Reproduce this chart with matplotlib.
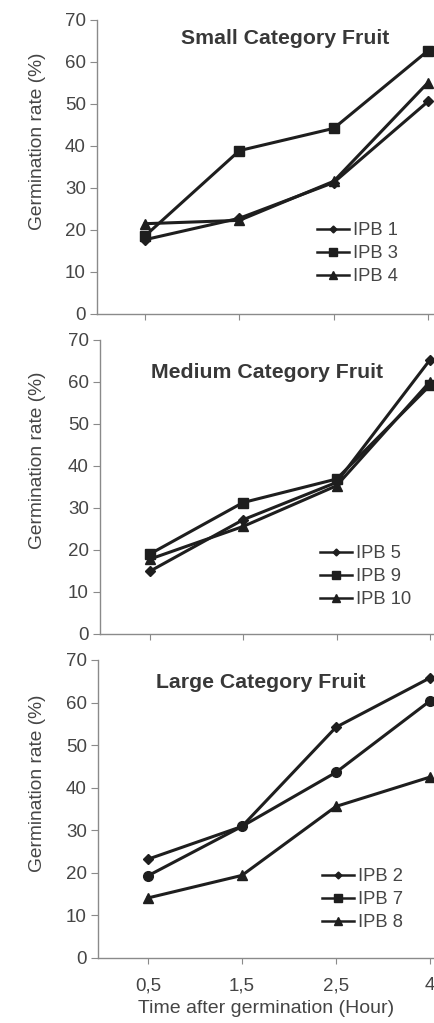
import matplotlib
matplotlib.use("Agg")
import matplotlib.pyplot as plt
from matplotlib.lines import Line2D

plt.rcParams['font.family'] = ['Liberation Sans', 'DejaVu Sans']

time_labels = ["0,5", "1,5", "2,5", "4"]

small_names = ["IPB 1", "IPB 3", "IPB 4"]
small_ipb1 = [17.7, 22.8, 31.3, 50.6]
small_ipb3 = [18.6, 38.9, 44.2, 62.7]
small_ipb4 = [21.5, 22.3, 31.6, 55.1]

medium_names = ["IPB 5", "IPB 9", "IPB 10"]
medium_ipb5 = [14.9, 27.2, 36.1, 65.3]
medium_ipb9 = [19.0, 31.3, 36.9, 59.2]
medium_ipb10 = [17.8, 25.6, 35.3, 60.1]

large_names = ["IPB 2", "IPB 7", "IPB 8"]
large_ipb2 = [23.2, 30.9, 54.2, 65.8]
large_ipb7 = [19.3, 30.9, 43.6, 60.4]
large_ipb8 = [14.1, 19.4, 35.6, 42.5]

titles = ["Small Category Fruit", "Medium Category Fruit", "Large Category Fruit"]

W, H = 435, 1023
fig = plt.figure(figsize=(W / 100, H / 100), dpi=100)

line_col = "#1e1e1e"
spine_col = "#8a8a8a"
text_col = "#454545"

panels = [
    dict(rect=(97, 20, 314), xlim=(-0.51, 3.074), title=titles[0], tx=285, ty=38,
         names=small_names, series=[small_ipb1, small_ipb3, small_ipb4],
         markers=['D', 's', '^'], leg=(317, 222), ylab=141),
    dict(rect=(100, 340, 634), xlim=(-0.53, 3.053), title=titles[1], tx=267, ty=372,
         names=medium_names, series=[medium_ipb5, medium_ipb9, medium_ipb10],
         markers=['D', 's', '^'], leg=(320, 545), ylab=460),
    dict(rect=(98, 660, 958), xlim=(-0.53, 3.053), title=titles[2], tx=261, ty=682,
         names=large_names, series=[large_ipb2, large_ipb7, large_ipb8],
         markers=['D', 'o', '^'], leg=(322, 868), ylab=783),
]

msize = {'D': 5, 's': 6.5, '^': 7, 'o': 7}
leg_msize = {'D': 3.5, 's': 5.5, '^': 5.5, 'o': 5.5}

x = list(range(len(time_labels)))

for i, p in enumerate(panels):
    left, top, bottom = p['rect']
    ax = fig.add_axes([left / W, 1 - bottom / H, 1 - left / W, (bottom - top) / H])
    ax.set_xlim(*p['xlim'])
    ax.set_ylim(0, 70)
    for s, m in zip(p['series'], p['markers']):
        ax.plot(x, s, color=line_col, lw=2.2, marker=m, ms=msize[m],
                mfc=line_col, mec=line_col, clip_on=False)
    ax.set_yticks(range(0, 71, 10))
    ax.set_xticks(x)
    if i == 2:
        ax.set_xticklabels(time_labels)
        ax.set_xlabel("Time after germination (Hour)", fontsize=14, color=text_col, labelpad=4)
    else:
        ax.set_xticklabels([])
    fig.text(38 / W, 1 - p['ylab'] / H, "Germination rate (%)", fontsize=13.8,
             color=text_col, rotation=90, ha='center', va='center')
    for sp in ['top', 'right']:
        ax.spines[sp].set_visible(False)
    for sp in ['left', 'bottom']:
        ax.spines[sp].set_color(spine_col)
        ax.spines[sp].set_linewidth(1.0)
    ax.tick_params(axis='y', direction='out', length=5, color=spine_col,
                   labelsize=13.5, labelcolor=text_col, pad=3)
    ax.tick_params(axis='x', direction='out', length=4, color=spine_col,
                   labelsize=13.5, labelcolor=text_col, pad=10)
    ax.set_facecolor('none')
    fig.text(p['tx'] / W, 1 - p['ty'] / H, p['title'], fontsize=15.3, fontweight='bold',
             color="#383838", ha='center', va='center')
    handles = [Line2D([0], [0], color=line_col, lw=1.8,
                      marker=('s' if m == 'o' else m), ms=leg_msize[m], mfc=line_col, mec=line_col)
               for m in p['markers']]
    lx, ly = p['leg']
    leg = fig.legend(handles, p['names'], loc='upper left',
                     bbox_to_anchor=(lx / W, 1 - ly / H), frameon=False,
                     fontsize=13.2, handlelength=1.75, handletextpad=0.2,
                     labelspacing=0.34, borderpad=0, borderaxespad=0)
    for t in leg.get_texts():
        t.set_color(text_col)

fig.savefig("out.png", dpi=100)
